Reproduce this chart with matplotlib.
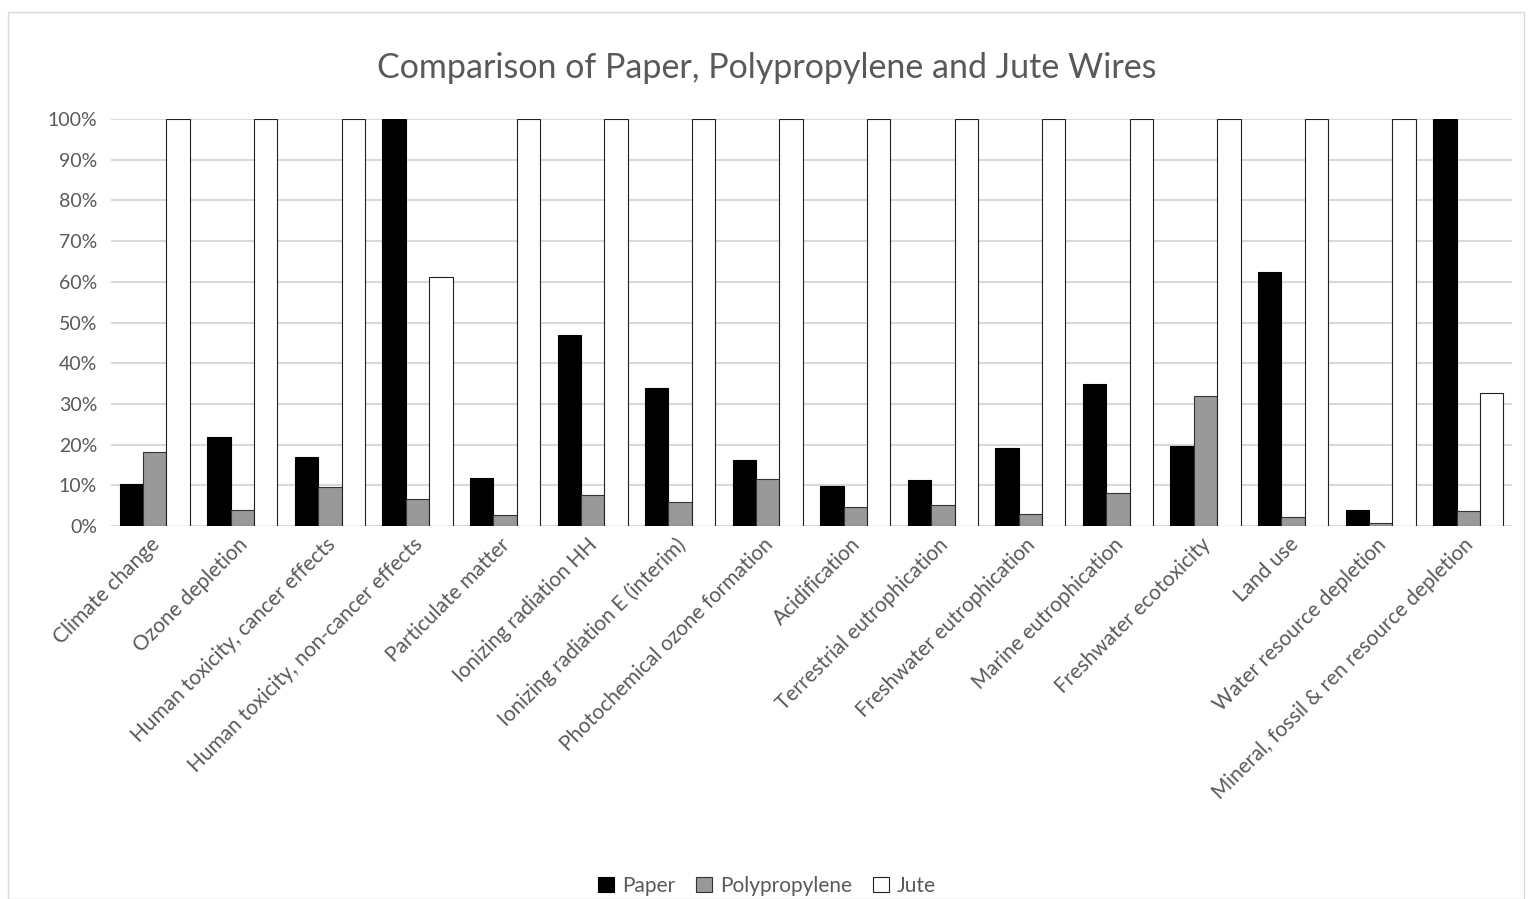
import numpy as np
import matplotlib.pyplot as plt
import matplotlib.transforms as mtransforms
from matplotlib.ticker import PercentFormatter
from matplotlib.patches import Rectangle

plt.rcParams['font.family'] = ['Lato', 'DejaVu Sans']

categories = [
    'Climate change', 'Ozone depletion', 'Human toxicity, cancer effects',
    'Human toxicity, non-cancer effects', 'Particulate matter',
    'Ionizing radiation HH', 'Ionizing radiation E (interim)',
    'Photochemical ozone formation', 'Acidification',
    'Terrestrial eutrophication', 'Freshwater eutrophication',
    'Marine eutrophication', 'Freshwater ecotoxicity', 'Land use',
    'Water resource depletion', 'Mineral, fossil & ren resource depletion',
]
paper = [10.2, 21.9, 17.0, 100, 11.8, 47.0, 33.9, 16.2, 9.75, 11.3,
         19.1, 35.0, 19.7, 62.3, 4.0, 100]
polypropylene = [18.3, 4.0, 9.7, 6.7, 2.7, 7.7, 5.9, 11.6, 4.75, 5.2,
                 2.95, 8.2, 31.9, 2.3, 0.7, 3.7]
jute = [100, 100, 100, 61.3, 100, 100, 100, 100, 100, 100,
        100, 100, 100, 100, 100, 32.7]

W, H = 1534, 899
fig = plt.figure(figsize=(W / 100, H / 100), dpi=100)
ax = fig.add_axes([111 / W, 1 - 526 / H, (1512 - 111) / W, (526 - 119) / H])

# outer chart border
fig.patches.append(Rectangle((8 / W, 0), (1524 - 8) / W, 1 - 12 / H,
                             transform=fig.transFigure, fill=False,
                             edgecolor='#d9d9d9', linewidth=1))

x = np.arange(len(categories))
w = 0.267
text_col = '#595959'

ax.bar(x - w, paper, w, color='black', edgecolor='black', linewidth=0.8,
       label='Paper', zorder=3)
ax.bar(x, polypropylene, w, color='#999999', edgecolor='#333333',
       linewidth=0.8, label='Polypropylene', zorder=3)
ax.bar(x + w, jute, w, color='white', edgecolor='#222222', linewidth=0.8,
       label='Jute', zorder=3)

ax.set_xlim(-0.5, len(categories) - 0.5)
ax.set_ylim(0, 100)
ax.set_yticks(np.arange(0, 101, 10))
ax.yaxis.set_major_formatter(PercentFormatter(decimals=0))
ax.grid(axis='y', color='#d9d9d9', linewidth=1.5, zorder=0)
for s in ax.spines.values():
    s.set_visible(False)
ax.tick_params(axis='both', length=0, colors=text_col, labelsize=14)
ax.tick_params(axis='y', pad=10)

ax.set_xticks(x)
ax.set_xticklabels(categories, rotation=45, ha='right', rotation_mode='anchor',
                   fontsize=15, color=text_col)
ax.tick_params(axis='x', pad=6)
# nudge the slanted labels a little left, like the original
shift = mtransforms.ScaledTranslation(-5 / 100, 0, fig.dpi_scale_trans)
for lbl in ax.get_xticklabels():
    lbl.set_transform(lbl.get_transform() + shift)

fig.text(0.5, 1 - 68 / H, 'Comparison of Paper, Polypropylene and Jute Wires',
         ha='center', va='center', fontsize=24.5, color=text_col)

fig.legend(loc='center', bbox_to_anchor=(0.5, 1 - 886 / H), ncol=3,
           frameon=False, fontsize=15, handlelength=0.75, handleheight=0.75,
           handletextpad=0.4, columnspacing=1.0, labelcolor=text_col)

fig.savefig('out.png', dpi=100)
